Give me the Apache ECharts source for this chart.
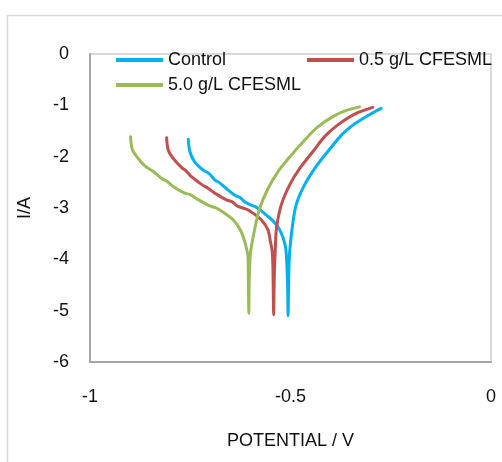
<!DOCTYPE html>
<html>
<head>
<meta charset="utf-8">
<script src="https://cdn.jsdelivr.net/npm/echarts@6/dist/echarts.min.js"></script>
<style>html,body{margin:0;padding:0;background:#fff}#c{width:502px;height:462px}</style>
</head>
<body>
<div id="c"></div>
<script>
var seriesNames = ['Control', '0.5 g/L CFESML', '5.0 g/L CFESML'];
var seriesColors = ['#00b0f0', '#c0504d', '#9bbb59'];

// [potential (V), log I]
var controlData = [
  [-0.755,-1.66],[-0.751,-1.90],[-0.739,-2.10],[-0.718,-2.26],[-0.703,-2.33],[-0.689,-2.45],
  [-0.675,-2.52],[-0.660,-2.62],[-0.639,-2.75],[-0.625,-2.80],[-0.614,-2.88],[-0.600,-2.94],[-0.589,-2.97],
  [-0.575,-3.04],[-0.560,-3.14],[-0.545,-3.24],[-0.535,-3.33],[-0.526,-3.44],[-0.519,-3.57],[-0.514,-3.70],
  [-0.511,-3.85],[-0.509,-4.10],[-0.507,-4.60],[-0.506,-5.10],[-0.505,-4.60],[-0.504,-4.20],
  [-0.502,-3.85],[-0.496,-3.40],[-0.486,-2.94],[-0.465,-2.55],[-0.436,-2.19],[-0.407,-1.90],
  [-0.373,-1.58],[-0.350,-1.42],[-0.332,-1.32],[-0.300,-1.17],[-0.274,-1.06]
];
var cfesml05Data = [
  [-0.809,-1.63],[-0.805,-1.87],[-0.793,-2.03],[-0.772,-2.21],[-0.760,-2.28],[-0.747,-2.39],
  [-0.722,-2.54],[-0.705,-2.62],[-0.689,-2.71],[-0.660,-2.84],[-0.645,-2.88],[-0.631,-2.97],
  [-0.610,-3.02],[-0.597,-3.08],[-0.573,-3.23],[-0.556,-3.43],[-0.550,-3.66],[-0.546,-3.82],
  [-0.544,-4.10],[-0.543,-4.60],[-0.542,-5.08],[-0.541,-4.60],[-0.540,-4.20],[-0.538,-3.82],
  [-0.535,-3.40],[-0.523,-2.94],[-0.502,-2.55],[-0.477,-2.23],[-0.444,-1.90],[-0.415,-1.61],
  [-0.382,-1.38],[-0.340,-1.17],[-0.295,-1.04]
];
var cfesml50Data = [
  [-0.899,-1.61],[-0.894,-1.87],[-0.880,-2.03],[-0.863,-2.18],[-0.842,-2.29],[-0.822,-2.42],
  [-0.808,-2.48],[-0.793,-2.58],[-0.764,-2.71],[-0.750,-2.74],[-0.734,-2.82],[-0.701,-2.96],
  [-0.685,-3.00],[-0.668,-3.08],[-0.643,-3.23],[-0.625,-3.43],[-0.614,-3.66],[-0.608,-3.85],
  [-0.606,-3.95],[-0.605,-4.40],[-0.604,-5.05],[-0.603,-4.40],[-0.601,-4.00],[-0.599,-3.82],
  [-0.589,-3.40],[-0.577,-3.01],[-0.556,-2.62],[-0.531,-2.29],[-0.498,-1.97],[-0.465,-1.68],
  [-0.432,-1.42],[-0.390,-1.20],[-0.357,-1.09],[-0.328,-1.03]
];
var xTicks = { min: -1, max: 0, interval: 0.5 };
var yTicks = { min: -6, max: 0, interval: 1 };

var allData = [controlData, cfesml05Data, cfesml50Data];
var font = 'Liberation Sans';
var txt = '#111';

var chart = echarts.init(document.getElementById('c'), null, { renderer: 'canvas' });
var legendPos = [[116, 50], [307, 50], [116, 75]];
chart.setOption({
  backgroundColor: '#fff',
  animation: false,
  graphic: [{
    type: 'rect', left: 5, top: 13, shape: { width: 520, height: 470 },
    style: { fill: 'none', stroke: '#d9d9d9', lineWidth: 1.5 }, silent: true, z: -1
  }],
  grid: {
    left: 90, top: 54, width: 401, height: 308,
    show: true, borderColor: '#d9d9d9', borderWidth: 2, backgroundColor: 'transparent'
  },
  legend: seriesNames.map(function (n, i) {
    return {
      data: [n], left: legendPos[i][0], top: legendPos[i][1], padding: 0,
      icon: 'rect', itemWidth: 47, itemHeight: 4,
      textStyle: { fontFamily: font, fontSize: 18, color: txt, lineHeight: 20 }
    };
  }),
  xAxis: {
    type: 'value', min: xTicks.min, max: xTicks.max, interval: xTicks.interval,
    name: 'POTENTIAL / V', nameLocation: 'middle', nameGap: 70,
    nameTextStyle: { fontFamily: font, fontSize: 18, color: txt },
    axisLine: { show: true, onZero: false, lineStyle: { color: '#a6a6a6', width: 2 } },
    axisTick: { show: false },
    splitLine: { show: false },
    axisLabel: { fontFamily: font, fontSize: 18, color: txt, margin: 26 }
  },
  yAxis: {
    type: 'value', min: yTicks.min, max: yTicks.max, interval: yTicks.interval,
    name: 'I/A', nameLocation: 'middle', nameGap: 56,
    nameTextStyle: { fontFamily: font, fontSize: 18, color: txt },
    axisLine: { show: true, onZero: false, lineStyle: { color: '#a6a6a6', width: 2 } },
    axisTick: { show: false },
    splitLine: { show: false },
    axisLabel: { fontFamily: font, fontSize: 18, color: txt, margin: 21 }
  },
  series: seriesNames.map(function (n, i) {
    return {
      name: n, type: 'line', data: allData[i], showSymbol: false, symbol: 'none',
      smooth: 0.3, color: seriesColors[i],
      lineStyle: { color: seriesColors[i], width: 3, cap: 'round', join: 'round' }
    };
  })
});
</script>
</body>
</html>
